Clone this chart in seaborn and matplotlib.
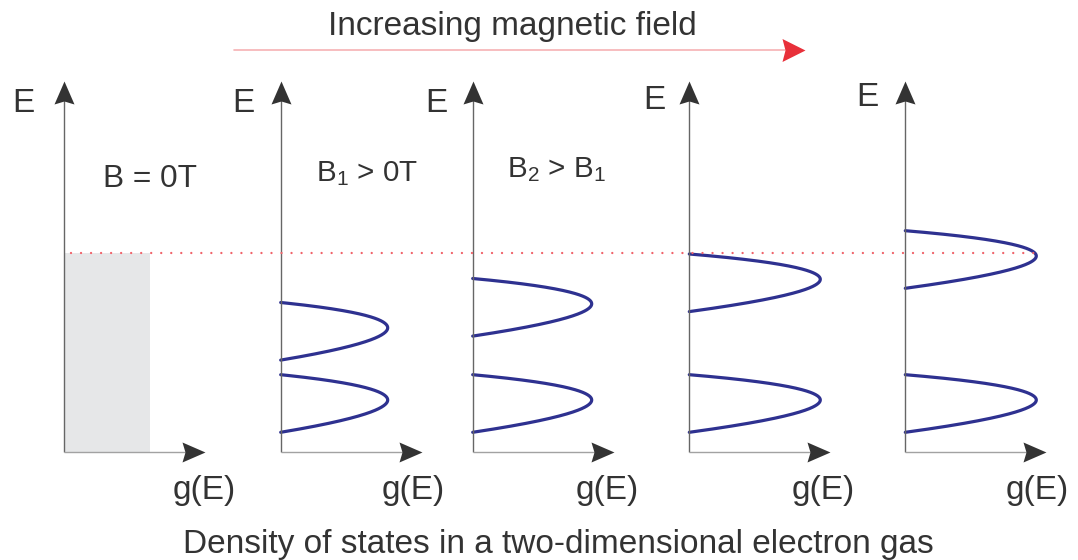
import numpy as np
import pandas as pd
import matplotlib
matplotlib.use("Agg")
import matplotlib.pyplot as plt
from matplotlib.path import Path
import seaborn as sns

# ---------------- data (energy and g(E) in arbitrary units) ----------------
field_labels = ["B = 0T",
                r"$\mathregular{B_1}$ > 0T",
                r"$\mathregular{B_2}$ > $\mathregular{B_1}$",
                "", ""]
fermi_energy = 19.95                 # Fermi level, shared by all panels
free_dos = 8.6                       # constant 2DEG density of states at B = 0
level_energies = [[], [4.88, 12.10], [4.88, 14.50], [4.88, 16.95], [4.88, 19.28]]
level_peaks = [0.0, 10.7, 11.9, 13.1, 13.1]   # Landau level peak height per panel
level_halfwidth = 2.88               # broadening of each Landau level
level_skew = 0.35
title = "Increasing magnetic field"
caption = "Density of states in a two-dimensional electron gas"
energy_label = "E"
dos_label = "g(E)"

# ---------------- layout ----------------
W, H, DPI = 1078, 560, 100
PX = 10.0                             # pixels per data unit
origins_x = [64, 280.7, 472.7, 689.3, 905.3]
origin_y = 452.3
g_axis_len = 14.1
e_axis_len = 37.16
label_pos = [(103.3, 186.7), (316, 181.7), (506.7, 176.7), None, None]
label_size = [22.8, 21.3, 21.3, 21.3, 21.3]
e_label_pos = [(23, 112), (243, 112), (436, 112), (654, 109), (867, 106)]
g_label_pos = [(204, 499), (413, 499), (607, 499), (823, 499), (1037, 499)]

TEXT = "#333333"
AXIS_V = "#666666"
AXIS_H = "#a2a2a2"
HEAD = "#333333"
LEVEL = "#2e3190"
GREY = "#e6e7e8"
FERMI = "#f0636a"
RED_LINE = "#f6b1b4"
RED_HEAD = "#e8303a"
FS = 24

sns.set_theme(style="white")
plt.rcParams["font.family"] = ["Liberation Sans", "DejaVu Sans"]
plt.rcParams["mathtext.fontset"] = "custom"
plt.rcParams["mathtext.rm"] = "Liberation Sans"

fig = plt.figure(figsize=(W / DPI, H / DPI), dpi=DPI)


def arrow_head(ax, x, y, angle, length, half, notch, color, z=5):
    """Filled arrow head with its tip at (x, y); sizes in pixels."""
    a = np.deg2rad(angle)
    base = np.array([(0, 0), (-length, half), (-length + notch, 0),
                     (-length, -half), (0, 0)], dtype=float)
    rot = np.array([[np.cos(a), -np.sin(a)], [np.sin(a), np.cos(a)]])
    verts = base @ rot.T
    path = Path(verts, [Path.MOVETO, Path.LINETO, Path.LINETO,
                        Path.LINETO, Path.CLOSEPOLY])
    size = 2 * np.abs(verts).max() * 72 / DPI
    ax.plot([x], [y], marker=path, ms=size, color=color, mew=0,
            ls="none", clip_on=False, zorder=z)


# Landau level curves for every panel
t = np.linspace(-1, 1, 241)
frames = []
for i, (levels, peak) in enumerate(zip(level_energies, level_peaks)):
    for n, e0 in enumerate(levels):
        frames.append(pd.DataFrame({
            "panel": i, "level": n,
            "g": peak * (1 - t ** 2),
            "E": e0 + level_halfwidth * t + level_skew * (1 - t ** 2),
        }))
curves = pd.concat(frames, ignore_index=True)

panel_axes = []
for i, x0 in enumerate(origins_x):
    ax = fig.add_axes([x0 / W, (H - origin_y) / H, 160 / W, 400 / H])
    ax.patch.set_alpha(0)
    sub = curves[curves["panel"] == i]
    if len(sub):
        sns.lineplot(data=sub, x="g", y="E", units="level", estimator=None,
                     sort=False, color=LEVEL, lw=2.3, ax=ax, legend=False)
        for line in ax.get_lines():
            line.set_clip_on(False)
    else:
        ax.fill_between([0, free_dos], 0, fermi_energy, color=GREY, lw=0)
    ax.set_xlim(0, 160 / PX)
    ax.set_ylim(0, 400 / PX)
    ax.set_axis_off()
    # energy axis and g(E) axis with arrow heads
    ax.plot([0, 0], [0, e_axis_len - 1.5], color=AXIS_V, lw=1.0,
            solid_capstyle="butt", clip_on=False)
    ax.plot([0, g_axis_len - 1.5], [0, 0], color=AXIS_H, lw=1.0,
            solid_capstyle="butt", clip_on=False)
    arrow_head(ax, 0, e_axis_len, 90, 23, 10, 3, HEAD)
    arrow_head(ax, g_axis_len, 0, 0, 23, 10, 3, HEAD)
    panel_axes.append(ax)

# Fermi level across all panels
ax0 = panel_axes[0]
ax0.set_zorder(10)
fermi_span = (origins_x[-1] + 137.5 - origins_x[0]) / PX
ax0.plot([0.67, fermi_span], [fermi_energy, fermi_energy], color=FERMI,
         lw=1.7, dashes=(0.01, 7.2 / 1.7), dash_capstyle="round",
         clip_on=False, zorder=6)

# overlay for titles, labels and the field arrow
ov = fig.add_axes([0, 0, 1, 1])
ov.patch.set_alpha(0)
ov.set_xlim(0, W)
ov.set_ylim(H, 0)
ov.set_axis_off()

ov.text(327.7, 35.5, title, fontsize=FS, color=TEXT, ha="left", va="baseline")
ov.plot([234, 785], [49.5, 49.5], color=RED_LINE, lw=1.2)
arrow_head(ov, 805, 49.5, 0, 23, 11.5, 3, RED_HEAD)
ov.text(183.3, 553.3, caption, fontsize=FS, color=TEXT, ha="left", va="baseline")

for lab, pos, size in zip(field_labels, label_pos, label_size):
    if pos is not None and lab:
        ov.text(pos[0], pos[1], lab, fontsize=size, color=TEXT,
                ha="left", va="baseline")
for (ex, ey), (gx, gy) in zip(e_label_pos, g_label_pos):
    ov.text(ex, ey, energy_label, fontsize=FS, color=TEXT, ha="center", va="baseline")
    ov.text(gx, gy, dos_label, fontsize=FS, color=TEXT, ha="center", va="baseline")

fig.savefig("out.png", dpi=DPI)
